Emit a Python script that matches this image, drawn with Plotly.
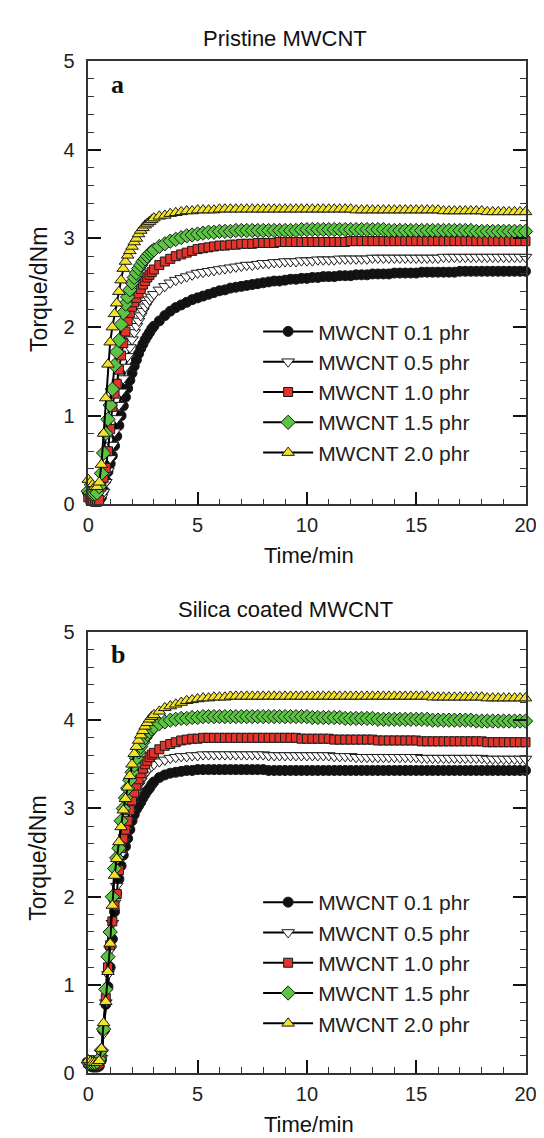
import plotly.graph_objects as go

# time grid (min): 0.1 steps during the rise, 0.25 steps on the plateau
TIME = [
    0.0, 0.1, 0.2, 0.3, 0.4, 0.5, 0.6, 0.7, 0.8, 0.9,
    1.0, 1.1, 1.2, 1.3, 1.4, 1.5, 1.6, 1.7, 1.8, 1.9,
    2.0, 2.1, 2.2, 2.3, 2.4, 2.5, 2.6, 2.7, 2.8, 2.9, 3.0,
    3.25, 3.5, 3.75, 4.0, 4.25, 4.5, 4.75, 5.0,
    5.25, 5.5, 5.75, 6.0, 6.25, 6.5, 6.75, 7.0,
    7.25, 7.5, 7.75, 8.0, 8.25, 8.5, 8.75, 9.0,
    9.25, 9.5, 9.75, 10.0, 10.25, 10.5, 10.75, 11.0,
    11.25, 11.5, 11.75, 12.0, 12.25, 12.5, 12.75, 13.0,
    13.25, 13.5, 13.75, 14.0, 14.25, 14.5, 14.75, 15.0,
    15.25, 15.5, 15.75, 16.0, 16.25, 16.5, 16.75, 17.0,
    17.25, 17.5, 17.75, 18.0, 18.25, 18.5, 18.75, 19.0,
    19.25, 19.5, 19.75, 20.0,
]

SERIES_NAMES = ["MWCNT 0.1 phr", "MWCNT 0.5 phr", "MWCNT 1.0 phr",
                "MWCNT 1.5 phr", "MWCNT 2.0 phr"]

# --- (a) pristine MWCNT, torque in dNm ---
a_01 = [
    0.12, 0.08, 0.06, 0.05, 0.05, 0.05, 0.08, 0.16, 0.27, 0.37,
    0.46, 0.55, 0.66, 0.77, 0.89, 1.00, 1.11, 1.21, 1.31, 1.40,
    1.48, 1.56, 1.63, 1.70, 1.76, 1.81, 1.86, 1.90, 1.94, 1.98, 2.01,
    2.07, 2.13, 2.18, 2.22, 2.25, 2.28, 2.31, 2.33,
    2.35, 2.37, 2.39, 2.41, 2.42, 2.44, 2.45, 2.46,
    2.47, 2.48, 2.49, 2.50, 2.51, 2.52, 2.52, 2.53,
    2.54, 2.54, 2.55, 2.55, 2.56, 2.56, 2.57, 2.57,
    2.57, 2.58, 2.58, 2.58, 2.59, 2.59, 2.59, 2.60,
    2.60, 2.60, 2.60, 2.61, 2.61, 2.61, 2.61, 2.61,
    2.62, 2.62, 2.62, 2.62, 2.62, 2.62, 2.62, 2.63,
    2.63, 2.63, 2.63, 2.63, 2.63, 2.63, 2.63, 2.63,
    2.63, 2.63, 2.63, 2.63,
]
a_05 = [
    0.10, 0.07, 0.05, 0.04, 0.04, 0.05, 0.08, 0.14, 0.25, 0.38,
    0.52, 0.67, 0.82, 0.97, 1.12, 1.27, 1.42, 1.55, 1.67, 1.77,
    1.86, 1.94, 2.01, 2.07, 2.13, 2.18, 2.23, 2.27, 2.31, 2.34, 2.37,
    2.42, 2.46, 2.50, 2.53, 2.55, 2.57, 2.59, 2.61,
    2.62, 2.63, 2.64, 2.65, 2.66, 2.67, 2.68, 2.69,
    2.70, 2.70, 2.71, 2.72, 2.72, 2.73, 2.73, 2.74,
    2.74, 2.74, 2.75, 2.75, 2.75, 2.76, 2.76, 2.76,
    2.76, 2.77, 2.77, 2.77, 2.77, 2.77, 2.77, 2.78,
    2.78, 2.78, 2.78, 2.78, 2.78, 2.78, 2.78, 2.78,
    2.78, 2.78, 2.78, 2.78, 2.79, 2.79, 2.79, 2.79,
    2.79, 2.79, 2.79, 2.79, 2.79, 2.79, 2.79, 2.79,
    2.79, 2.79, 2.79, 2.79,
]
a_10 = [
    0.08, 0.05, 0.04, 0.03, 0.03, 0.05, 0.20, 0.30, 0.41, 0.60,
    0.85, 1.10, 1.25, 1.36, 1.52, 1.68, 1.82, 1.95, 2.07, 2.16,
    2.23, 2.28, 2.33, 2.38, 2.43, 2.48, 2.52, 2.56, 2.59, 2.62, 2.65,
    2.70, 2.74, 2.77, 2.80, 2.82, 2.84, 2.86, 2.88,
    2.89, 2.90, 2.91, 2.92, 2.92, 2.93, 2.93, 2.94,
    2.94, 2.94, 2.95, 2.95, 2.95, 2.95, 2.96, 2.96,
    2.96, 2.96, 2.96, 2.96, 2.96, 2.96, 2.96, 2.96,
    2.96, 2.96, 2.96, 2.97, 2.97, 2.97, 2.97, 2.97,
    2.97, 2.97, 2.97, 2.97, 2.97, 2.97, 2.97, 2.97,
    2.97, 2.97, 2.97, 2.97, 2.97, 2.97, 2.97, 2.97,
    2.97, 2.97, 2.97, 2.97, 2.97, 2.97, 2.97, 2.97,
    2.97, 2.97, 2.97, 2.97,
]
a_15 = [
    0.15, 0.13, 0.12, 0.12, 0.13, 0.20, 0.35, 0.58, 0.80, 0.96,
    1.12, 1.30, 1.57, 1.72, 1.85, 2.03, 2.16, 2.26, 2.34, 2.42,
    2.50, 2.56, 2.61, 2.66, 2.70, 2.74, 2.77, 2.80, 2.83, 2.85, 2.87,
    2.91, 2.94, 2.97, 2.99, 3.01, 3.03, 3.04, 3.05,
    3.06, 3.07, 3.07, 3.08, 3.08, 3.08, 3.09, 3.09,
    3.09, 3.09, 3.09, 3.09, 3.09, 3.09, 3.09, 3.09,
    3.09, 3.09, 3.10, 3.10, 3.10, 3.10, 3.10, 3.10,
    3.10, 3.10, 3.10, 3.10, 3.10, 3.10, 3.10, 3.10,
    3.10, 3.10, 3.09, 3.09, 3.09, 3.09, 3.09, 3.09,
    3.09, 3.09, 3.09, 3.09, 3.09, 3.09, 3.09, 3.09,
    3.09, 3.09, 3.08, 3.08, 3.08, 3.08, 3.08, 3.08,
    3.08, 3.08, 3.08, 3.08,
]
a_20 = [
    0.28, 0.25, 0.22, 0.20, 0.20, 0.25, 0.45, 0.80, 1.20, 1.58,
    1.83, 2.00, 2.15, 2.27, 2.40, 2.53, 2.66, 2.74, 2.81, 2.86,
    2.91, 2.96, 3.00, 3.05, 3.09, 3.12, 3.15, 3.17, 3.19, 3.21, 3.23,
    3.25, 3.26, 3.28, 3.29, 3.30, 3.31, 3.31, 3.32,
    3.32, 3.32, 3.32, 3.33, 3.33, 3.33, 3.33, 3.33,
    3.33, 3.33, 3.33, 3.33, 3.33, 3.33, 3.33, 3.33,
    3.33, 3.33, 3.33, 3.33, 3.33, 3.33, 3.33, 3.33,
    3.33, 3.33, 3.33, 3.33, 3.32, 3.32, 3.32, 3.32,
    3.32, 3.32, 3.32, 3.32, 3.32, 3.32, 3.32, 3.32,
    3.32, 3.32, 3.32, 3.32, 3.31, 3.31, 3.31, 3.31,
    3.31, 3.31, 3.31, 3.31, 3.30, 3.30, 3.30, 3.30,
    3.30, 3.30, 3.30, 3.30,
]

# --- (b) silica coated MWCNT, torque in dNm ---
b_01 = [
    0.10, 0.08, 0.07, 0.07, 0.07, 0.08, 0.15, 0.50, 0.78, 0.98,
    1.20, 1.52, 1.83, 2.04, 2.20, 2.35, 2.47, 2.57, 2.66, 2.76,
    2.86, 2.93, 2.99, 3.03, 3.07, 3.12, 3.16, 3.20, 3.23, 3.27, 3.30,
    3.35, 3.38, 3.40, 3.41, 3.42, 3.43, 3.43, 3.44,
    3.44, 3.44, 3.44, 3.44, 3.44, 3.44, 3.44, 3.44,
    3.44, 3.44, 3.44, 3.44, 3.43, 3.43, 3.43, 3.43,
    3.43, 3.43, 3.43, 3.43, 3.43, 3.43, 3.43, 3.43,
    3.43, 3.43, 3.43, 3.43, 3.43, 3.43, 3.43, 3.43,
    3.43, 3.43, 3.43, 3.43, 3.43, 3.43, 3.43, 3.43,
    3.43, 3.43, 3.43, 3.43, 3.43, 3.43, 3.43, 3.43,
    3.43, 3.43, 3.43, 3.43, 3.43, 3.43, 3.43, 3.43,
    3.43, 3.43, 3.43, 3.43,
]
b_05 = [
    0.12, 0.10, 0.09, 0.09, 0.09, 0.10, 0.17, 0.45, 0.80, 1.12,
    1.40, 1.70, 1.93, 2.12, 2.30, 2.48, 2.62, 2.75, 2.86, 2.96,
    3.05, 3.13, 3.20, 3.26, 3.31, 3.36, 3.40, 3.43, 3.46, 3.48, 3.50,
    3.53, 3.55, 3.57, 3.58, 3.59, 3.59, 3.60, 3.60,
    3.61, 3.61, 3.61, 3.61, 3.61, 3.61, 3.61, 3.61,
    3.61, 3.61, 3.61, 3.61, 3.60, 3.60, 3.60, 3.60,
    3.60, 3.60, 3.60, 3.60, 3.60, 3.60, 3.60, 3.60,
    3.59, 3.59, 3.59, 3.59, 3.58, 3.58, 3.58, 3.58,
    3.58, 3.58, 3.58, 3.58, 3.58, 3.58, 3.58, 3.58,
    3.57, 3.57, 3.57, 3.57, 3.57, 3.57, 3.57, 3.57,
    3.57, 3.57, 3.57, 3.57, 3.56, 3.56, 3.56, 3.56,
    3.56, 3.56, 3.56, 3.56,
]
b_10 = [
    0.12, 0.10, 0.09, 0.09, 0.09, 0.11, 0.20, 0.50, 0.85, 1.20,
    1.45, 1.72, 1.90, 2.03, 2.30, 2.55, 2.66, 2.76, 2.86, 2.98,
    3.09, 3.18, 3.26, 3.33, 3.40, 3.45, 3.50, 3.54, 3.58, 3.61, 3.63,
    3.67, 3.71, 3.73, 3.75, 3.77, 3.78, 3.79, 3.79,
    3.80, 3.80, 3.80, 3.80, 3.80, 3.80, 3.80, 3.80,
    3.80, 3.80, 3.80, 3.80, 3.80, 3.80, 3.80, 3.80,
    3.80, 3.80, 3.79, 3.79, 3.79, 3.79, 3.79, 3.79,
    3.78, 3.78, 3.78, 3.78, 3.78, 3.78, 3.78, 3.78,
    3.77, 3.77, 3.77, 3.77, 3.77, 3.77, 3.77, 3.77,
    3.76, 3.76, 3.76, 3.76, 3.76, 3.76, 3.76, 3.76,
    3.76, 3.76, 3.76, 3.76, 3.75, 3.75, 3.75, 3.75,
    3.75, 3.75, 3.75, 3.75,
]
b_15 = [
    0.12, 0.12, 0.12, 0.12, 0.13, 0.16, 0.26, 0.50, 0.95, 1.32,
    1.60, 2.00, 2.32, 2.44, 2.55, 2.86, 3.00, 3.12, 3.23, 3.32,
    3.41, 3.49, 3.57, 3.64, 3.70, 3.75, 3.80, 3.84, 3.87, 3.90, 3.92,
    3.96, 3.98, 4.00, 4.01, 4.02, 4.02, 4.03, 4.03,
    4.04, 4.04, 4.04, 4.04, 4.04, 4.04, 4.04, 4.04,
    4.04, 4.04, 4.04, 4.04, 4.04, 4.04, 4.04, 4.04,
    4.04, 4.04, 4.04, 4.04, 4.03, 4.03, 4.03, 4.03,
    4.03, 4.03, 4.02, 4.02, 4.02, 4.02, 4.02, 4.02,
    4.01, 4.01, 4.01, 4.01, 4.01, 4.01, 4.01, 4.01,
    4.01, 4.01, 4.00, 4.00, 4.00, 4.00, 4.00, 4.00,
    4.00, 4.00, 3.99, 3.99, 3.99, 3.99, 3.99, 3.99,
    3.99, 3.99, 3.99, 3.99,
]
b_20 = [
    0.15, 0.13, 0.12, 0.12, 0.12, 0.14, 0.28, 0.57, 0.81, 1.15,
    1.47, 1.90, 2.24, 2.43, 2.62, 2.79, 2.98, 3.11, 3.24, 3.37,
    3.50, 3.62, 3.70, 3.77, 3.83, 3.88, 3.93, 3.97, 4.01, 4.04, 4.06,
    4.10, 4.14, 4.16, 4.18, 4.20, 4.22, 4.23, 4.24,
    4.25, 4.25, 4.26, 4.26, 4.26, 4.27, 4.27, 4.27,
    4.27, 4.27, 4.27, 4.27, 4.27, 4.27, 4.27, 4.27,
    4.27, 4.27, 4.27, 4.27, 4.27, 4.27, 4.27, 4.27,
    4.27, 4.27, 4.27, 4.27, 4.27, 4.27, 4.27, 4.27,
    4.27, 4.27, 4.27, 4.27, 4.27, 4.27, 4.27, 4.27,
    4.27, 4.27, 4.26, 4.26, 4.26, 4.26, 4.26, 4.26,
    4.26, 4.26, 4.26, 4.26, 4.25, 4.25, 4.25, 4.25,
    4.25, 4.25, 4.25, 4.25,
]

PANEL_A = [a_01, a_05, a_10, a_15, a_20]
PANEL_B = [b_01, b_05, b_10, b_15, b_20]

# marker style per loading
STYLES = [
    dict(symbol="circle", color="#111111", size=10),
    dict(symbol="triangle-down", color="#ffffff", size=11),
    dict(symbol="square", color="#e2342a", size=9),
    dict(symbol="diamond", color="#5cc443", size=11),
    dict(symbol="triangle-up", color="#f2e228", size=11),
]

FONT = "Liberation Sans, Arial, Helvetica, sans-serif"
SERIF = "Liberation Serif, Times New Roman, serif"
W, H = 544, 1138

fig = go.Figure()


def add_panel(series, xaxis, yaxis, legend):
    for name, vals, st in zip(SERIES_NAMES, series, STYLES):
        fig.add_trace(go.Scatter(
            x=TIME, y=vals, name=name, mode="lines+markers",
            xaxis=xaxis, yaxis=yaxis, legend=legend, cliponaxis=False,
            line=dict(color="#000000", width=2),
            marker=dict(symbol=st["symbol"], size=st["size"], color=st["color"],
                        line=dict(color="#1a1a1a", width=1)),
        ))


add_panel(PANEL_A, "x", "y", "legend")
add_panel(PANEL_B, "x2", "y2", "legend2")

x_dom = [76.7 / W, 528 / W]
top_dom = [1 - 495 / H, 1 - 43 / H]
bot_dom = [1 - 1075 / H, 1 - 625 / H]

xaxis_style = dict(
    range=[0, 20], domain=x_dom, dtick=5, showgrid=False, zeroline=False,
    showline=True, linecolor="#333333", linewidth=1.5, mirror=True,
    ticks="inside", ticklen=13, tickwidth=2, tickcolor="#111111",
    minor=dict(dtick=1, ticks="inside", ticklen=6, tickwidth=1, tickcolor="#333333"),
    tickfont=dict(size=20, color="#222222", family=FONT), ticklabelstandoff=2,
)
yaxis_style = dict(
    range=[0, 5], dtick=1, showgrid=False, zeroline=False,
    showline=True, linecolor="#333333", linewidth=1.5, mirror="ticks",
    ticks="inside", ticklen=13, tickwidth=2, tickcolor="#111111",
    minor=dict(dtick=0.2, ticks="inside", ticklen=6, tickwidth=1, tickcolor="#333333"),
    tickfont=dict(size=20, color="#222222", family=FONT), ticklabelstandoff=8,
)

legend_style = dict(
    xref="paper", yref="paper", xanchor="left", yanchor="top",
    font=dict(size=21, color="#222222", family=FONT),
    bgcolor="rgba(0,0,0,0)", itemwidth=50, tracegroupgap=0, traceorder="normal",
)

fig.update_layout(
    width=W, height=H, margin=dict(l=0, r=0, t=0, b=0),
    paper_bgcolor="white", plot_bgcolor="white",
    font=dict(family=FONT, color="#222222"),
    xaxis=dict(anchor="y", **xaxis_style),
    yaxis=dict(anchor="x", domain=top_dom, **yaxis_style),
    xaxis2=dict(anchor="y2", **xaxis_style),
    yaxis2=dict(anchor="x2", domain=bot_dom, **yaxis_style),
    legend=dict(x=252 / W, y=1 - 298 / H, **legend_style),
    legend2=dict(x=252 / W, y=1 - 880 / H, **legend_style),
)


def text(label, x, y, size=22, angle=0, family=FONT, bold=False):
    fig.add_annotation(
        text=f"<b>{label}</b>" if bold else label, x=x / W, y=1 - y / H,
        xref="paper", yref="paper", showarrow=False, textangle=angle,
        font=dict(size=size, family=family, color="#111111"),
        xanchor="center", yanchor="middle",
    )


text("Pristine MWCNT", 280, 20)
text("Silica coated MWCNT", 280, 602)
text("Time/min", 304, 547)
text("Time/min", 304, 1127)
text("Torque/dNm", 25, 276, size=23, angle=-90)
text("Torque/dNm", 25, 856, size=23, angle=-90)
text("a", 107, 67, size=26, family=SERIF, bold=True)
text("b", 107, 648, size=26, family=SERIF, bold=True)

fig.write_html("out.html")
